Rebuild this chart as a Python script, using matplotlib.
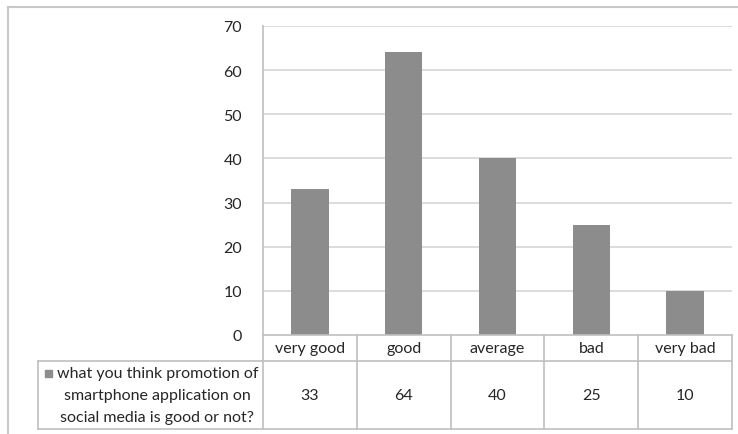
import matplotlib
matplotlib.use("Agg")
import matplotlib.pyplot as plt
from matplotlib.lines import Line2D
from matplotlib.patches import Rectangle

categories = ["very good", "good", "average", "bad", "very bad"]
values = [33, 64, 40, 25, 10]
series_label = "what you think promotion of\nsmartphone application on\nsocial media is good or not?"
y_ticks = [0, 10, 20, 30, 40, 50, 60, 70]

plt.rcParams["font.family"] = ["Lato", "DejaVu Sans"]

W, H = 738, 435
fig = plt.figure(figsize=(W / 100, H / 100), dpi=100)

bar_color = "#8c8c8c"
grid_color = "#d9d9d9"
border_color = "#bfbfbf"
text_color = "#262626"

# plot area in pixel coordinates
px_left, px_right, px_top, px_base = 263, 732, 27, 336
ax = fig.add_axes([px_left / W, 1 - px_base / H, (px_right - px_left) / W, (px_base - px_top) / H])
n = len(categories)
xs = list(range(n))
ax.bar(xs, values, width=0.4, color=bar_color, zorder=3)
ax.set_xlim(-0.5, n - 0.5)
ax.set_ylim(0, 70)
ax.set_yticks(y_ticks)
ax.set_yticklabels([str(t) for t in y_ticks], fontsize=11.5, color=text_color)
ax.tick_params(axis="y", length=0, pad=15)
ax.set_xticks([])
for t in y_ticks[1:]:
    ax.axhline(t, color=grid_color, lw=1.3, zorder=1)
for s in ["top", "right", "bottom"]:
    ax.spines[s].set_visible(False)
ax.spines["left"].set_color(border_color)
ax.spines["left"].set_linewidth(1.2)

# data table below the plot
tb_left, tb_bottom, tb_head = 38, 430, 362
unit = (px_right - px_left) / n
label_w = (px_left - tb_left) / unit
tax = fig.add_axes([tb_left / W, 1 - tb_bottom / H, (px_right - tb_left) / W, (tb_bottom - px_base) / H])
x0 = -0.5 - label_w
tax.set_xlim(x0, n - 0.5)
tax.set_ylim(0, 1)
tax.axis("off")
hy = (tb_bottom - tb_head) / (tb_bottom - px_base)

def seg(xa, xb, ya, yb):
    tax.add_line(Line2D([xa, xb], [ya, yb], color=border_color, lw=1.2, clip_on=False))

seg(-0.5, n - 0.5, 1, 1)
seg(x0, n - 0.5, hy, hy)
seg(x0, n - 0.5, 0, 0)
seg(x0, x0, 0, hy)
for i in range(n + 1):
    seg(i - 0.5, i - 0.5, 0, 1)

for i, (c, v) in enumerate(zip(categories, values)):
    tax.text(i, (1 + hy) / 2, c, ha="center", va="center", fontsize=11.5, color=text_color)
    tax.text(i, hy / 2, str(v), ha="center", va="center", fontsize=11.5, color=text_color)

# series label with its legend key
lx = (157.5 - tb_left) / unit + x0
tax.text(lx, hy / 2, series_label, ha="center", va="center", multialignment="center",
         fontsize=11.5, color=text_color, linespacing=1.7)
key_x = (45 - tb_left) / unit + x0
key_w = 7 / unit
key_h = 7 / (tb_bottom - px_base)
key_y = (tb_bottom - 374) / (tb_bottom - px_base)
tax.add_patch(Rectangle((key_x, key_y - key_h / 2), key_w, key_h, color=bar_color, clip_on=False))

# outer chart frame
fig.add_artist(Line2D([8 / W, 1], [1 - 8 / H, 1 - 8 / H], color="#c8c8c8", lw=1.5, transform=fig.transFigure))
fig.add_artist(Line2D([8 / W, 8 / W], [0, 1 - 8 / H], color="#c8c8c8", lw=1.5, transform=fig.transFigure))

fig.savefig("out.png", dpi=100, facecolor="white")
